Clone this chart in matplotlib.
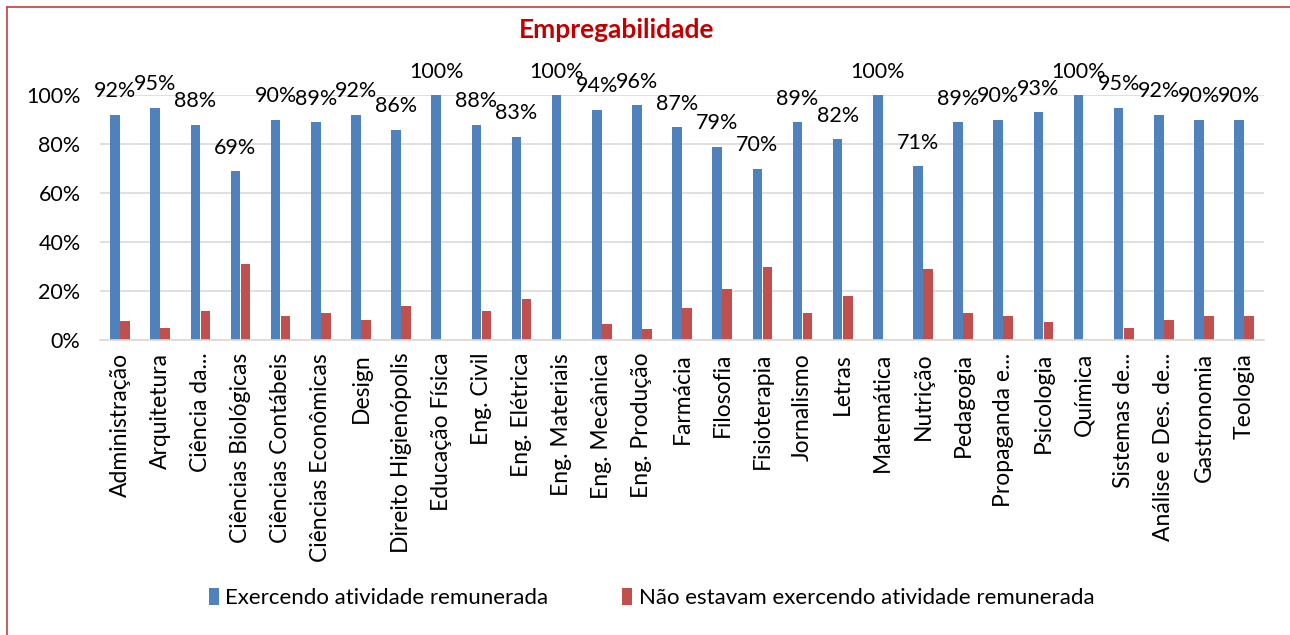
import matplotlib.pyplot as plt
import numpy as np

plt.rcParams['font.family'] = ['Lato', 'DejaVu Sans']

cursos = ["Administração", "Arquitetura", "Ciência da...", "Ciências Biológicas",
          "Ciências Contábeis", "Ciências Econômicas", "Design", "Direito Higienópolis",
          "Educação Física", "Eng. Civil", "Eng. Elétrica", "Eng. Materiais",
          "Eng. Mecânica", "Eng. Produção", "Farmácia", "Filosofia", "Fisioterapia",
          "Jornalismo", "Letras", "Matemática", "Nutrição", "Pedagogia",
          "Propaganda e...", "Psicologia", "Química", "Sistemas de...",
          "Análise e Des. de...", "Gastronomia", "Teologia"]
exercendo = [92, 95, 88, 69, 90, 89, 92, 86, 100, 88, 83, 100, 94, 96, 87, 79, 70,
             89, 82, 100, 71, 89, 90, 93, 100, 95, 92, 90, 90]
nao_exercendo = [8, 5, 12, 31, 10, 11, 8.5, 14, 0, 12, 17, 0, 6.5, 4.5, 13, 21, 30,
                 11, 18, 0, 29, 11, 10, 7.5, 0, 5, 8.5, 10, 10]

azul = '#4F81BD'
vermelho = '#C0504D'

fig = plt.figure(figsize=(12.9, 6.35), dpi=100)
ax = fig.add_axes([0.0775, 0.464, 0.9025, 0.386])

x = np.arange(len(cursos))
w = 0.24
b1 = ax.bar(x - 0.125, exercendo, w, color=azul, label='Exercendo atividade remunerada')
b2 = ax.bar(x + 0.125, nao_exercendo, w, color=vermelho,
            label='Não estavam exercendo atividade remunerada')

for xi, v in zip(x, exercendo):
    ax.text(xi - 0.125, v + 5.5, f'{v}%', ha='center', va='bottom', fontsize=15.5)

ax.set_ylim(0, 100)
ax.set_xlim(-0.5, len(cursos) - 0.5)
ax.set_yticks(range(0, 101, 20))
ax.set_yticklabels([f'{t}%' for t in range(0, 101, 20)], fontsize=15.5)
ax.set_xticks(x)
ax.set_xticklabels(cursos, rotation=90, fontsize=16.5)
ax.tick_params(axis='y', length=0, pad=14)
ax.tick_params(axis='x', length=0, pad=9)
ax.grid(axis='y', color='#D9D9D9', linewidth=1.2)
ax.set_axisbelow(True)
for s in ['top', 'right', 'left']:
    ax.spines[s].set_visible(False)
ax.spines['bottom'].set_color('#D9D9D9')
ax.spines['bottom'].set_linewidth(1.2)

fig.text(0.478, 0.952, 'Empregabilidade', ha='center', va='center',
         fontsize=19, fontweight='bold', color='#C00000')

fig.legend(handles=[b1, b2], loc='center', bbox_to_anchor=(0.505, 0.058), ncol=2,
           frameon=False, fontsize=16, handlelength=0.45, handleheight=0.8,
           handletextpad=0.3, columnspacing=3.3)

# moldura do gráfico
fig.add_artist(plt.Line2D([0.0055, 1.0], [0.989, 0.989], color=vermelho, lw=1.3,
                          transform=fig.transFigure))
fig.add_artist(plt.Line2D([0.0055, 0.0055], [0.0, 0.989], color=vermelho, lw=1.3,
                          transform=fig.transFigure))

fig.savefig('out.png', dpi=100)
